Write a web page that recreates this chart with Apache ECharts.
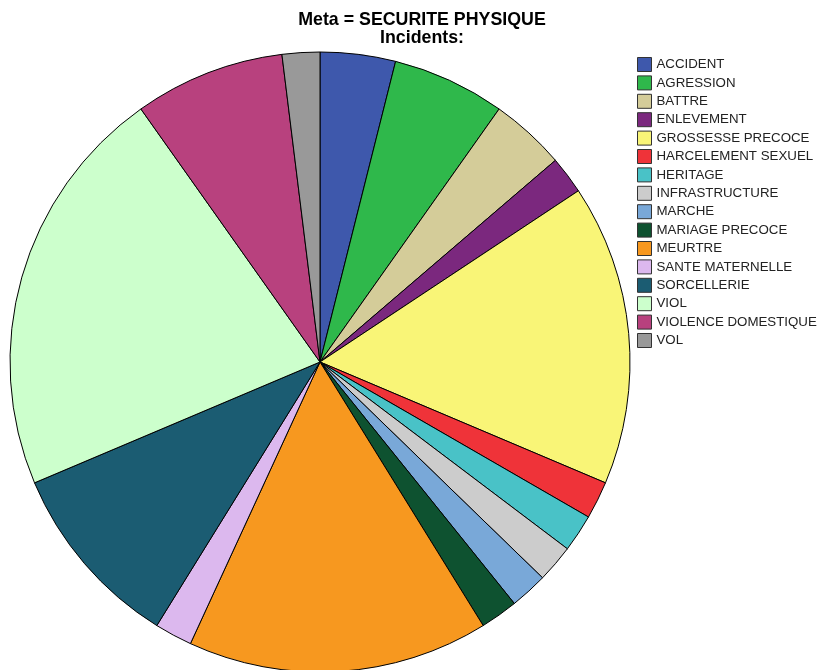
<!DOCTYPE html>
<html>
<head>
<meta charset="utf-8">
<script src="https://cdn.jsdelivr.net/npm/echarts@6/dist/echarts.min.js"></script>
<style>html,body{margin:0;padding:0;background:#fff}#c{width:818px;height:670px}</style>
</head>
<body>
<div id="c"></div>
<script>
const categories = ["ACCIDENT","AGRESSION","BATTRE","ENLEVEMENT","GROSSESSE PRECOCE","HARCELEMENT SEXUEL","HERITAGE","INFRASTRUCTURE","MARCHE","MARIAGE PRECOCE","MEURTRE","SANTE MATERNELLE","SORCELLERIE","VIOL","VIOLENCE DOMESTIQUE","VOL"];
const values = [2,3,2,1,8,1,1,1,1,1,8,1,5,11,4,1];
const colors = ["#3e58ac","#2fb84b","#d4cc99","#7b287e","#f9f577","#ef3339","#49c2c7","#cccccc","#79a8d8","#0e5230","#f7981f","#dcb8ee","#1b5c72","#ccffcc","#b8417e","#999999"];
const titleText = "Meta = SECURITE PHYSIQUE";
const subtitleText = "Incidents:";

const chart = echarts.init(document.getElementById('c'), null, {renderer: 'canvas'});
chart.setOption({
  animation: false,
  backgroundColor: '#ffffff',
  color: colors,
  title: {
    text: titleText,
    subtext: subtitleText,
    left: 422,
    textAlign: 'center',
    top: 11,
    padding: 0,
    itemGap: 0,
    textStyle: {fontFamily: 'Liberation Sans, Arial', fontWeight: 'bold', fontSize: 17.8, color: '#000', lineHeight: 18},
    subtextStyle: {fontFamily: 'Liberation Sans, Arial', fontWeight: 'bold', fontSize: 17.8, color: '#000', lineHeight: 19}
  },
  legend: {
    orient: 'vertical',
    left: 637,
    top: 57,
    padding: 0,
    itemWidth: 14,
    itemHeight: 14,
    itemGap: 3.4,
    icon: 'rect',
    itemStyle: {borderColor: '#333', borderWidth: 1},
    textStyle: {fontFamily: 'Liberation Sans, Arial', fontSize: 13.3, color: '#222', lineHeight: 14},
    data: categories
  },
  series: [{
    type: 'pie',
    center: [320, 362],
    radius: [0, 310],
    startAngle: 90,
    clockwise: true,
    label: {show: false},
    labelLine: {show: false},
    emphasis: {disabled: true},
    itemStyle: {borderColor: '#000', borderWidth: 1},
    data: categories.map((c, i) => ({name: c, value: values[i]}))
  }]
});
</script>
</body>
</html>
